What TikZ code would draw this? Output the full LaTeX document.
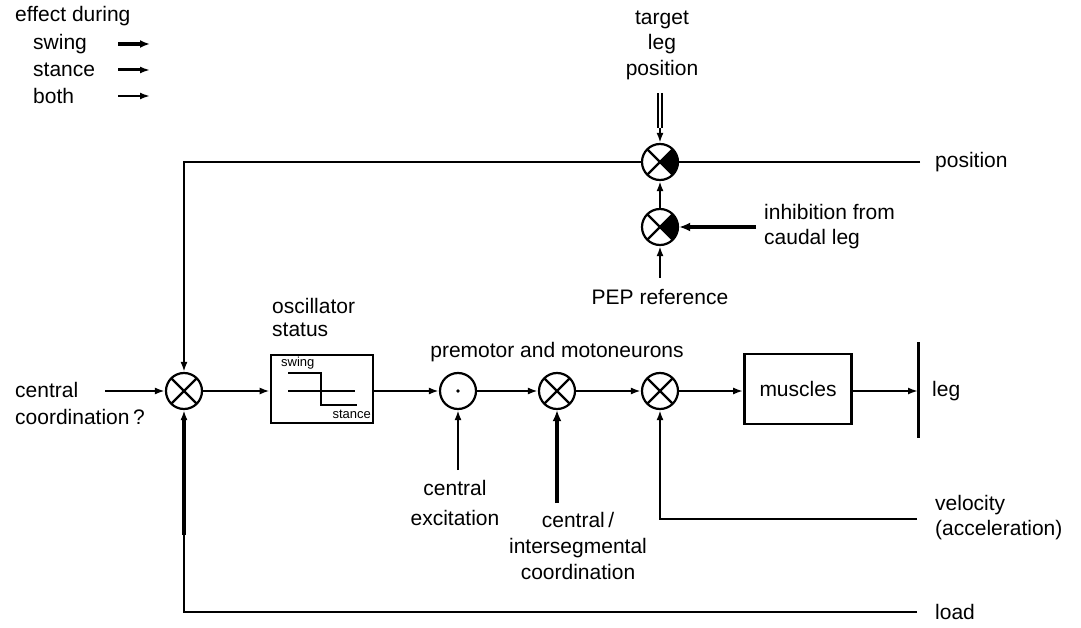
\documentclass[tikz,border=0pt]{standalone}
\usepackage{fontspec}
\setmainfont{Liberation Sans}
\usetikzlibrary{arrows.meta}
\begin{document}
\begin{tikzpicture}[x=1pt,y=-1pt,
  lbl/.style={font=\fontsize{21}{26}\selectfont, inner sep=0pt},
  sm/.style={font=\fontsize{13}{15}\selectfont, inner sep=0pt},
  ln/.style={line width=2.2pt},
  thk/.style={line width=4.5pt},
  arr/.style={ln,-{Latex[length=10pt,width=7pt]}},
  xj/.style={circle, draw, line width=2.2pt, minimum size=36pt, inner sep=0pt,
    path picture={\draw[line width=2.2pt] (path picture bounding box.north west) -- (path picture bounding box.south east)
      (path picture bounding box.north east) -- (path picture bounding box.south west);}},
  fj/.style={circle, draw, line width=2.2pt, minimum size=36pt, inner sep=0pt,
    path picture={\fill (path picture bounding box.center) -- (path picture bounding box.north east) -- (path picture bounding box.south east) -- cycle;
      \draw[line width=2.2pt] (path picture bounding box.north west) -- (path picture bounding box.south east)
      (path picture bounding box.north east) -- (path picture bounding box.south west);}},
  dj/.style={circle, draw, line width=2.2pt, minimum size=36pt, inner sep=0pt},
  blk/.style={draw, line width=2.6pt, inner sep=0pt}]
\useasboundingbox (0,0) rectangle (1081,628);

% legend
\node[lbl, anchor=west] (leg0) at (15,16) {effect during};
\node[lbl, anchor=west] (leg1) at (33,44) {swing};
\node[lbl, anchor=west] (leg2) at (33,70) {stance};
\node[lbl, anchor=west] (leg3) at (33,96) {both};
\coordinate (a1s) at (118,44); \coordinate (a1e) at (150,44);
\coordinate (a2s) at (118,70); \coordinate (a2e) at (150,70);
\coordinate (a3s) at (118,96); \coordinate (a3e) at (150,96);
\draw[line width=4.5pt,-{Latex[length=10pt,width=8pt]}] (a1s) -- (a1e);
\draw[line width=3pt,-{Latex[length=10pt,width=7pt]}] (a2s) -- (a2e);
\draw[line width=2pt,-{Latex[length=10pt,width=7pt]}] (a3s) -- (a3e);

% top
\node[lbl] (tgt) at (662,20) {target};
\node[lbl] (tleg) at (662,44) {leg};
\node[lbl] (tpos) at (662,70) {position};
\node[fj] (c1) at (660,162) {};
\node[fj] (c2) at (660,227) {};
\coordinate (tstart) at (660,93);
\coordinate (tmid) at (660,128);
\draw[line width=1.8pt, double, double distance=2.5pt] (tstart) -- (tmid);
\draw[arr] (tmid) -- (c1.north);
\draw[arr] (c2.north) -- (c1.south);
\coordinate (inh) at (756,227);
\draw[thk,-{Latex[length=11pt,width=9pt]}] (inh) -- (c2.east);
\node[lbl, anchor=west] (inh1) at (764,212) {inhibition from};
\node[lbl, anchor=west] (inh2) at (764,239) {caudal leg};
\coordinate (pep) at (660,278);
\draw[arr] (pep) -- (c2.south);
\node[lbl] (peplbl) at (660,297) {PEP reference};

\coordinate (posend) at (920,162);
\node[lbl, anchor=west] (poslbl) at (935,162) {position};

% main chain
\node[xj] (j1) at (184,391) {};
\node[blk, minimum width=102pt, minimum height=68pt] (osc) at (322,389) {};
\node[dj] (p1) at (458,391) {};
\fill (p1.center) circle (1.8pt);
\node[xj] (p2) at (557,391) {};
\node[xj] (p3) at (660,391) {};
\node[blk, minimum width=107pt, minimum height=70pt, font=\fontsize{21}{26}\selectfont] (mus) at (798,389) {muscles};
\coordinate (legtop) at (918,342);
\coordinate (legbot) at (918,438);
\coordinate (legmid) at (918,391);
\draw[line width=3pt] (legtop) -- (legbot);
\node[lbl, anchor=west] (leglbl) at (932,391) {leg};

% position feedback
\draw[ln] (posend) -- (c1.east);
\draw[arr] (c1.west) -| (j1.north);

% central coordination
\node[lbl, anchor=west] (cc1) at (15,390) {central};
\node[lbl, anchor=west] (cc2) at (15,417) {coordination\,?};
\coordinate (ccs) at (105,391);
\draw[arr] (ccs) -- (j1.west);

\draw[arr] (j1.east) -- (osc.west |- j1.east);
\draw[arr] (osc.east |- p1.west) -- (p1.west);
\draw[arr] (p1.east) -- (p2.west);
\draw[arr] (p2.east) -- (p3.west);
\draw[arr] (p3.east) -- (mus.west |- p3.east);
\draw[arr] (mus.east |- legmid) -- (legmid);

% oscillator inside
\node[lbl, anchor=south west] (osl1) at (272,314) {oscillator};
\node[lbl, anchor=west] (osl2) at (272,330) {status};
\node[sm, anchor=west] (sw) at (281,363) {swing};
\node[sm, anchor=east] (st) at (371,414) {stance};
\coordinate (w1) at (288,373); \coordinate (w2) at (321,373);
\coordinate (w3) at (321,405); \coordinate (w4) at (357,405);
\coordinate (m1) at (288,391); \coordinate (m2) at (355,391);
\draw[line width=1.5pt] (w1) -- (w2) -- (w3) -- (w4);
\draw[line width=2pt] (m1) -- (m2);

\node[lbl] (pm) at (557,352) {premotor and motoneurons};

% central excitation
\coordinate (ces) at (458,470);
\draw[arr] (ces) -- (p1.south);
\node[lbl] (ce1) at (455,488) {central};
\node[lbl] (ce2) at (455,518) {excitation};

% central / intersegmental
\coordinate (cis) at (557,503);
\draw[thk,-{Latex[length=11pt,width=9pt]}] (cis) -- (p2.south);
\node[lbl, align=center] (ci) at (578,546) {central\,/\\intersegmental\\coordination};

% velocity
\coordinate (vel) at (917,519);
\draw[arr] (vel) -| (p3.south);
\node[lbl, anchor=west] (v1) at (935,505) {velocity};
\node[lbl, anchor=west] (v2) at (935,530) {(acceleration)};

% load
\coordinate (load) at (917,612);
\draw[arr] (load) -| (j1.south);
\coordinate (lt1) at (184,420); \coordinate (lt2) at (184,535);
\draw[line width=4pt] (lt1) -- (lt2);
\node[lbl, anchor=west] (loadlbl) at (935,612) {load};
\end{tikzpicture}
\end{document}
